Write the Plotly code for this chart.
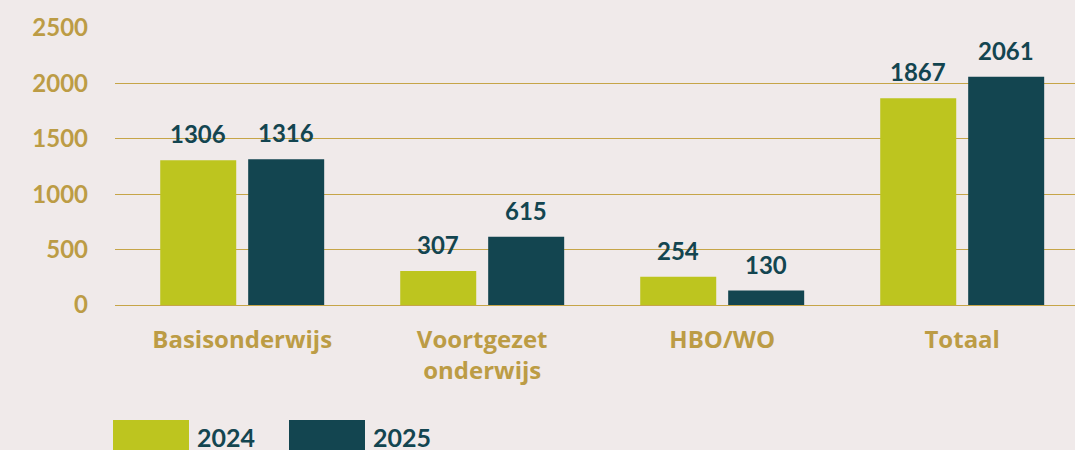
import plotly.graph_objects as go

categories = ["Basisonderwijs", "Voortgezet<br>onderwijs", "HBO/WO", "Totaal"]
values_2024 = [1306, 307, 254, 1867]
values_2025 = [1316, 615, 130, 2061]
series_names = ["2024", "2025"]
y_ticks = [0, 500, 1000, 1500, 2000, 2500]

BG = "#F0EAEA"
GREEN = "#BDC51F"
TEAL = "#134550"
GOLD = "#BC9C45"
GRID = "#C6A548"
NUMFONT = "Lato, 'Open Sans', sans-serif"
CATFONT = "'Open Sans', Lato, sans-serif"

fig = go.Figure()
for name, vals, col in [(series_names[0], values_2024, GREEN), (series_names[1], values_2025, TEAL)]:
    fig.add_trace(go.Bar(x=categories, y=vals, name=name, marker=dict(color=col, line=dict(width=0)),
                         showlegend=False, hoverinfo="skip"))

# value labels
for vals, shift in [(values_2024, -44), (values_2025, 44)]:
    for c, v in zip(categories, vals):
        fig.add_annotation(x=c, y=v, xref="x", yref="y", text=str(v), showarrow=False,
                           xshift=shift, yshift=10, yanchor="bottom",
                           font=dict(family=NUMFONT, size=24, color=TEAL, weight="bold"))

# legend drawn manually
for i, (name, col) in enumerate([(series_names[0], GREEN), (series_names[1], TEAL)]):
    x0 = 113 + i * 176
    fig.add_shape(type="rect", xref="paper", yref="paper",
                  x0=(x0 - 115) / 960, x1=(x0 + 76 - 115) / 960,
                  y0=(305 - 452) / 277, y1=(305 - 420) / 277,
                  fillcolor=col, line=dict(width=0), layer="above")
    fig.add_annotation(xref="paper", yref="paper", x=(x0 + 82 - 115) / 960, y=(305 - 437) / 277,
                       text=name, showarrow=False, xanchor="left", yanchor="middle",
                       font=dict(family=NUMFONT, size=25, color=TEAL, weight="bold"))

fig.update_layout(
    width=1075, height=450,
    margin=dict(l=115, r=0, t=28, b=145),
    paper_bgcolor=BG, plot_bgcolor=BG,
    barmode="group", bargap=0.267, bargroupgap=0.136,
    font=dict(family=NUMFONT, color=GOLD),
)
fig.update_xaxes(range=[-0.53, 3.47], showgrid=False, showline=True, linecolor=GRID, linewidth=1,
                 tickfont=dict(family=CATFONT, size=24, color=GOLD, weight="bold"), ticklabelstandoff=13)
fig.update_yaxes(range=[0, 2500], tickvals=y_ticks, showgrid=True, gridcolor=GRID, gridwidth=1,
                 zeroline=True, zerolinecolor=GRID, zerolinewidth=1,
                 tickfont=dict(family=NUMFONT, size=24, color=GOLD, weight="bold"), ticklabelstandoff=26)

fig.write_html("out.html", config={"displayModeBar": False},
               post_script="document.body.style.margin='0';document.body.style.background='" + BG + "';")
